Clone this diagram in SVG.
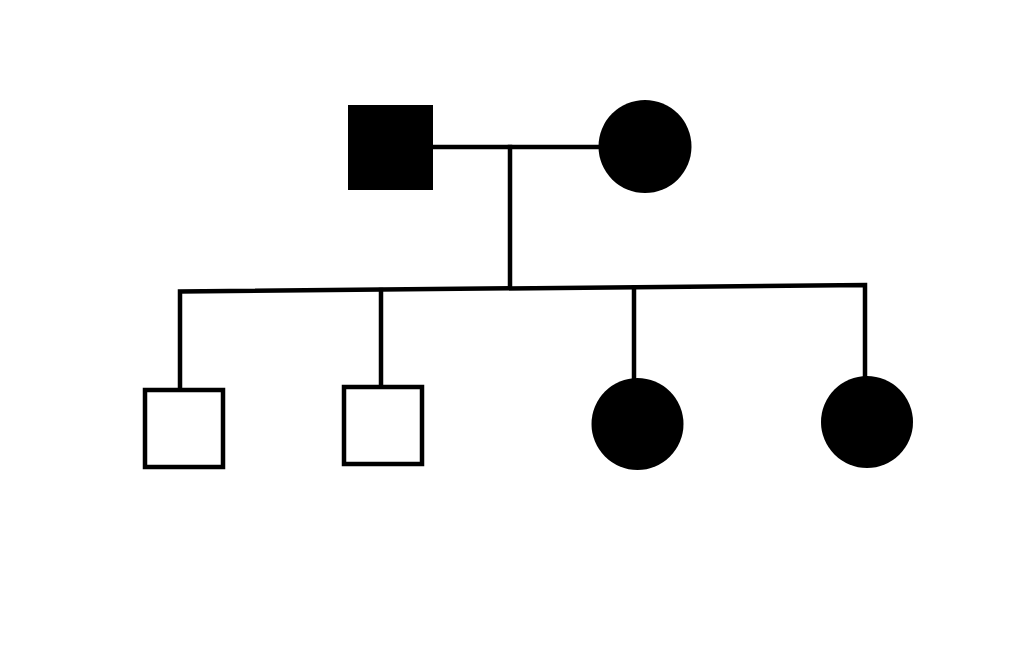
<svg xmlns="http://www.w3.org/2000/svg" width="1024" height="645" viewBox="0 0 1024 645">
<style>
.ln{stroke:#000;stroke-width:4.5;fill:none;stroke-linecap:square}
.aff{fill:#000}
.un{fill:#fff;stroke:#000;stroke-width:4.5}
</style>
<rect width="1024" height="645" fill="#fff"/>
<g id="connectors">
<line class="ln" x1="433" y1="147" x2="600" y2="147"/>
<line class="ln" x1="510" y1="147" x2="510" y2="287"/>
<polyline class="ln" points="180,388 180,291.5 865,285 865,376"/>
<line class="ln" x1="381" y1="290" x2="381" y2="386"/>
<line class="ln" x1="634" y1="287.5" x2="634" y2="378"/>
</g>
<g id="father"><rect class="aff" x="348" y="105" width="85" height="85"/></g>
<g id="mother"><circle class="aff" cx="645" cy="146.5" r="46.5"/></g>
<g id="son1"><rect class="un" x="145" y="390" width="78" height="77"/></g>
<g id="son2"><rect class="un" x="344" y="387" width="78" height="77"/></g>
<g id="daughter1"><circle class="aff" cx="637.5" cy="424" r="46"/></g>
<g id="daughter2"><circle class="aff" cx="867" cy="422" r="46"/></g>
</svg>
